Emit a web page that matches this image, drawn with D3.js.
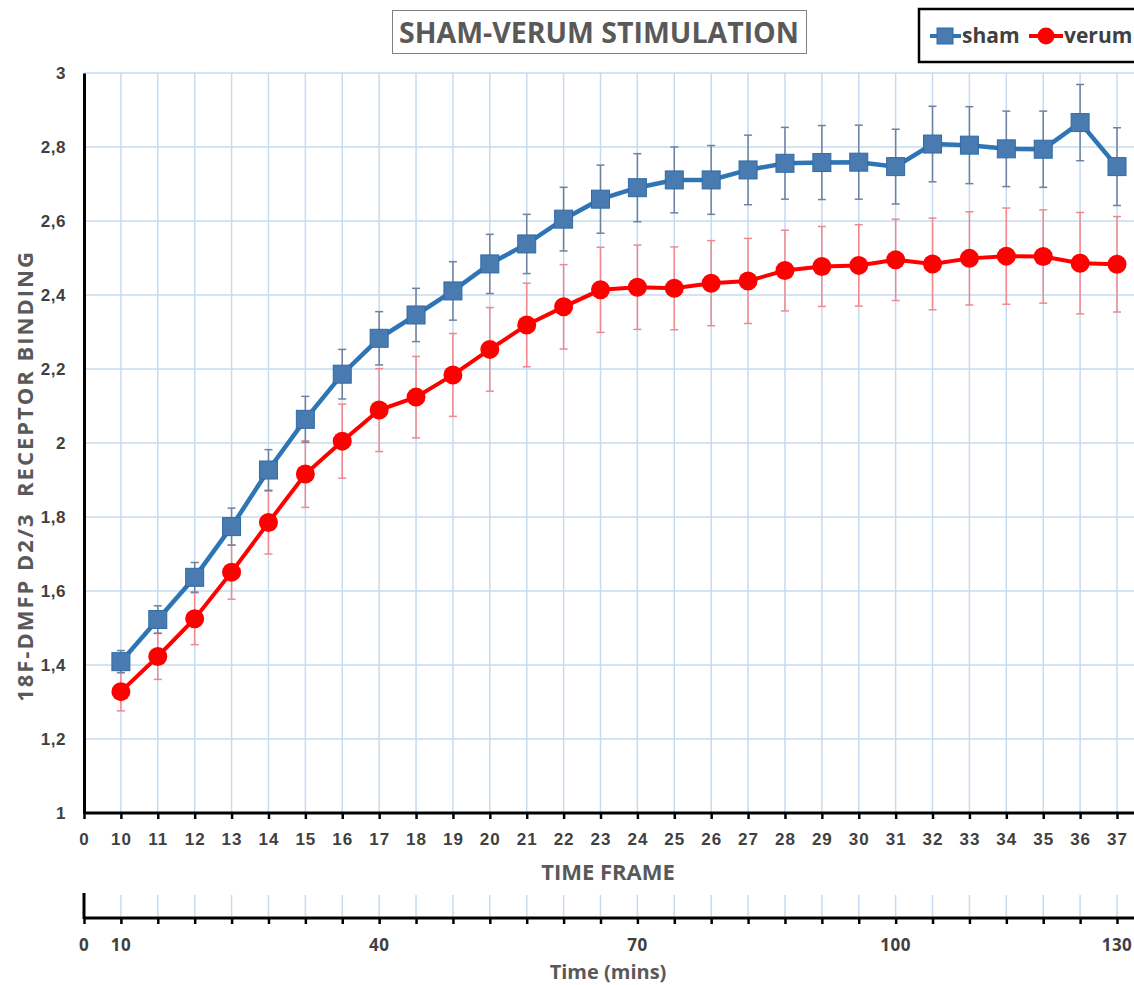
<!DOCTYPE html>
<html>
<head>
<meta charset="utf-8">
<script src="https://cdn.jsdelivr.net/npm/d3@7"></script>
<style>
  body { margin: 0; background: #fff; }
  svg { display: block; font-family: "Open Sans", sans-serif; }
</style>
</head>
<body>
<svg id="chart" width="1134" height="985"></svg>
<script>
// time frames 10..37
var frames = [10,11,12,13,14,15,16,17,18,19,20,21,22,23,24,25,26,27,28,29,30,31,32,33,34,35,36,37];
var sham = [1.409,1.523,1.637,1.774,1.927,2.064,2.186,2.283,2.346,2.411,2.484,2.538,2.605,2.659,2.690,2.711,2.711,2.738,2.756,2.758,2.759,2.747,2.808,2.805,2.795,2.794,2.866,2.747];
var shamErr = [0.030,0.037,0.040,0.050,0.055,0.062,0.067,0.072,0.072,0.079,0.080,0.080,0.086,0.092,0.092,0.089,0.093,0.094,0.097,0.100,0.100,0.101,0.102,0.104,0.102,0.103,0.103,0.105];
var verum = [1.328,1.423,1.525,1.651,1.785,1.916,2.005,2.089,2.124,2.184,2.253,2.319,2.368,2.414,2.421,2.418,2.432,2.438,2.466,2.477,2.480,2.495,2.484,2.499,2.505,2.504,2.486,2.483];
var verumErr = [0.052,0.062,0.070,0.073,0.085,0.090,0.100,0.112,0.110,0.112,0.113,0.113,0.114,0.115,0.114,0.112,0.115,0.115,0.109,0.108,0.110,0.110,0.124,0.126,0.130,0.126,0.137,0.129];
var yTicks = [1,1.2,1.4,1.6,1.8,2,2.2,2.4,2.6,2.8,3];
// minutes axis labels placed at frame positions (9 = origin)
var minPos = [9,10,17,24,31,37];
var minLabels = ["0","10","40","70","100","130"];

var svg = d3.select("#chart");
var x = d3.scaleLinear().domain([9, 37]).range([84, 1117]);
var y = d3.scaleLinear().domain([1, 3]).range([813, 73]);
var gridCol = "#c6dbef";
var fmt = function(d){ return String(d).replace(".", ","); };

// grid
svg.append("g").selectAll("line").data(yTicks.slice(1)).enter().append("line")
  .attr("x1", 84).attr("x2", 1134).attr("y1", y).attr("y2", y)
  .attr("stroke", gridCol).attr("stroke-width", 1.5);
svg.append("g").selectAll("line").data(frames).enter().append("line")
  .attr("x1", x).attr("x2", x).attr("y1", 73).attr("y2", 813)
  .attr("stroke", gridCol).attr("stroke-width", 1.5);

// y axis
var yAxis = svg.append("g").attr("transform", "translate(84,0)")
  .call(d3.axisLeft(y).tickValues(yTicks).tickFormat(fmt).tickSize(0).tickPadding(18));
yAxis.select(".domain").attr("stroke", "#000").attr("stroke-width", 3);
yAxis.selectAll("text").attr("font-size", 17).attr("font-weight", 700).attr("fill", "#404040").attr("letter-spacing", 0.5);

// x axis (time frame)
var xAxis = svg.append("g").attr("transform", "translate(0,813)")
  .call(d3.axisBottom(x).tickValues([9].concat(frames)).tickFormat(function(d){ return d === 9 ? "0" : d; })
    .tickSize(6).tickSizeOuter(0).tickPadding(14));
xAxis.select(".domain").attr("d", "M84,0H1134").attr("stroke", "#000").attr("stroke-width", 3);
xAxis.selectAll(".tick line").attr("stroke", "#000").attr("stroke-width", 2.5);
xAxis.selectAll("text").attr("font-size", 17).attr("font-weight", 700).attr("fill", "#404040").attr("letter-spacing", 1);

svg.append("text").attr("x", 608).attr("y", 880).attr("text-anchor", "middle")
  .attr("font-size", 22).attr("font-weight", 700).attr("fill", "#595959").text("TIME FRAME");

// second axis (minutes)
svg.append("g").selectAll("line").data(frames).enter().append("line")
  .attr("x1", x).attr("x2", x).attr("y1", 895).attr("y2", 916)
  .attr("stroke", gridCol).attr("stroke-width", 1.5);
var mAxis = svg.append("g").attr("transform", "translate(0,918)")
  .call(d3.axisBottom(x).tickValues([9].concat(frames)).tickFormat("").tickSize(6).tickSizeOuter(0));
mAxis.select(".domain").attr("d", "M84,0H1134").attr("stroke", "#000").attr("stroke-width", 3);
mAxis.selectAll(".tick line").attr("stroke", "#000").attr("stroke-width", 2.5);
svg.append("line").attr("x1", 84).attr("x2", 84).attr("y1", 893).attr("y2", 919)
  .attr("stroke", "#000").attr("stroke-width", 3);
svg.append("g").selectAll("text").data(minPos).enter().append("text")
  .attr("x", function(d){ return x(d); }).attr("y", 951).attr("text-anchor", "middle")
  .attr("font-size", 17).attr("font-weight", 700).attr("fill", "#404040").attr("letter-spacing", 0.5)
  .text(function(d, i){ return minLabels[i]; });
svg.append("text").attr("x", 608).attr("y", 979).attr("text-anchor", "middle")
  .attr("font-size", 20).attr("font-weight", 700).attr("fill", "#595959").text("Time (mins)");

// y title
svg.append("text").attr("transform", "translate(33,476) rotate(-90)").attr("text-anchor", "middle")
  .attr("font-size", 22).attr("font-weight", 700).attr("fill", "#595959").attr("letter-spacing", 2)
  .attr("xml:space", "preserve").text("18F-DMFP D2/3  RECEPTOR BINDING");

// error bars
function errBars(vals, errs, col) {
  var g = svg.append("g").attr("stroke", col).attr("stroke-width", 1.5);
  frames.forEach(function(f, i) {
    var cx = x(f), t = y(vals[i] + errs[i]), b = y(vals[i] - errs[i]);
    g.append("line").attr("x1", cx).attr("x2", cx).attr("y1", t).attr("y2", b);
    g.append("line").attr("x1", cx - 4).attr("x2", cx + 4).attr("y1", t).attr("y2", t);
    g.append("line").attr("x1", cx - 4).attr("x2", cx + 4).attr("y1", b).attr("y2", b);
  });
}
errBars(verum, verumErr, "#ee8a8f");
errBars(sham, shamErr, "#6d82a3");

var line = d3.line().x(function(d){ return x(d[0]); }).y(function(d){ return y(d[1]); });
var shamPts = frames.map(function(f, i){ return [f, sham[i]]; });
var verumPts = frames.map(function(f, i){ return [f, verum[i]]; });

svg.append("path").datum(verumPts).attr("d", line).attr("fill", "none")
  .attr("stroke", "#ff0000").attr("stroke-width", 4);
svg.append("g").selectAll("circle").data(verumPts).enter().append("circle")
  .attr("cx", function(d){ return x(d[0]); }).attr("cy", function(d){ return y(d[1]); })
  .attr("r", 9.5).attr("fill", "#ff0000");

svg.append("path").datum(shamPts).attr("d", line).attr("fill", "none")
  .attr("stroke", "#2e75b6").attr("stroke-width", 4.5);
svg.append("g").selectAll("rect").data(shamPts).enter().append("rect")
  .attr("x", function(d){ return x(d[0]) - 9; }).attr("y", function(d){ return y(d[1]) - 9; })
  .attr("width", 18).attr("height", 18).attr("fill", "#4a7bb0").attr("stroke", "#2e6aa8").attr("stroke-width", 1);

// title
svg.append("rect").attr("x", 392.5).attr("y", 10.5).attr("width", 414).attr("height", 43)
  .attr("fill", "#fff").attr("stroke", "#7f7f7f").attr("stroke-width", 1);
svg.append("text").attr("x", 599).attr("y", 43).attr("text-anchor", "middle")
  .attr("font-size", 28.5).attr("font-weight", 700).attr("fill", "#595959").text("SHAM-VERUM STIMULATION");

// legend
svg.append("rect").attr("x", 919).attr("y", 9).attr("width", 220).attr("height", 53)
  .attr("fill", "#fff").attr("stroke", "#000").attr("stroke-width", 2.5);
svg.append("line").attr("x1", 930).attr("x2", 961).attr("y1", 36).attr("y2", 36)
  .attr("stroke", "#2e75b6").attr("stroke-width", 4);
svg.append("rect").attr("x", 937).attr("y", 28).attr("width", 16).attr("height", 16)
  .attr("fill", "#4a7bb0").attr("stroke", "#2e6aa8");
svg.append("text").attr("x", 962).attr("y", 43).attr("font-size", 21).attr("font-weight", 700)
  .attr("fill", "#404040").text("sham");
svg.append("line").attr("x1", 1029).attr("x2", 1063).attr("y1", 36).attr("y2", 36)
  .attr("stroke", "#ff0000").attr("stroke-width", 4);
svg.append("circle").attr("cx", 1046).attr("cy", 36).attr("r", 8.5).attr("fill", "#ff0000");
svg.append("text").attr("x", 1064).attr("y", 43).attr("font-size", 21).attr("font-weight", 700)
  .attr("fill", "#404040").text("verum");
</script>
</body>
</html>
